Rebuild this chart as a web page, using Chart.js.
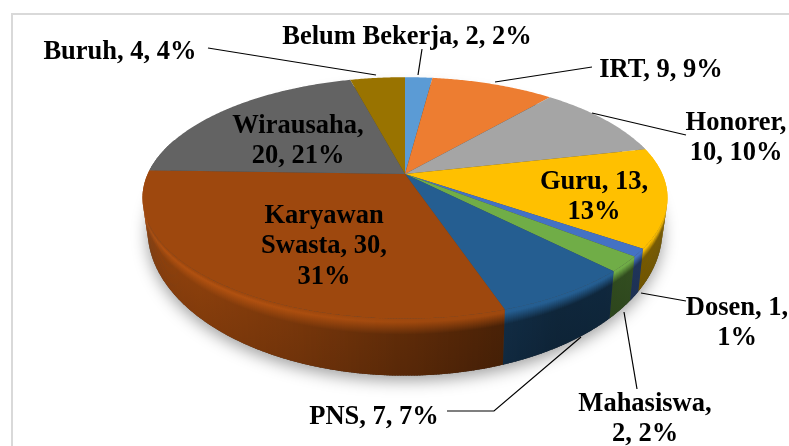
<!DOCTYPE html>
<html>
<head>
<meta charset="utf-8">
<style>
  html, body { margin: 0; padding: 0; background: #fff; overflow: hidden; }
  canvas { display: block; }
</style>
<script src="https://cdn.jsdelivr.net/npm/chart.js@4/dist/chart.umd.min.js"></script>
</head>
<body>
<canvas id="pieChart" width="789" height="446"></canvas>
<script>
// Chart data
const categories = ['Belum Bekerja', 'IRT', 'Honorer', 'Guru', 'Dosen', 'Mahasiswa', 'PNS', 'Karyawan Swasta', 'Wirausaha', 'Buruh'];
const counts = [2, 9, 10, 13, 1, 2, 7, 30, 20, 4];
const percents = [2, 9, 10, 13, 1, 2, 7, 31, 21, 4];
const sliceColors = ['#5B9BD5', '#ED7D31', '#A5A5A5', '#FFC000', '#4472C4', '#70AD47', '#255E91', '#9E480E', '#636363', '#997300'];

// Label placement: centre x, first line y, words per line
const labelSpots = [
  { x: 407, y: 37, words: [5] },
  { x: 661, y: 70, words: [4] },
  { x: 736, y: 123, words: [1, 2] },
  { x: 594, y: 182, words: [2, 1] },
  { x: 737, y: 308, words: [2, 1] },
  { x: 645, y: 404, words: [1, 2] },
  { x: 374, y: 417, words: [3] },
  { x: 324, y: 216, words: [1, 2, 1] },
  { x: 298, y: 126, words: [1, 2] },
  { x: 120, y: 52, words: [3] }
];

// Leader lines, same order as the categories (null = none)
const leaders = [
  [[422, 49], [418, 75]],
  [[592, 67], [495, 82]],
  [[686, 135], [592, 113]],
  null,
  [[686, 301], [641, 293]],
  [[637, 389], [624, 312]],
  [[447, 411], [494, 411], [581, 337]],
  null,
  null,
  [[208, 48], [376, 75]]
];

// Perspective of the tilted pie
const tilt = 0.198;
function topPoint(c, r, a) {
  const w = 1 - tilt * Math.sin(a);
  return [c.x + r * 0.982 * Math.cos(a) / w, c.y + r * 0.4427 * Math.sin(a) / w];
}
function basePoint(c, r, a) {
  const w = 1 - tilt * Math.sin(a);
  return [c.x + r * 0.963 * Math.cos(a) / w, c.y + 27 + r * 0.5345 * Math.sin(a) / w];
}

// Wall brightness read across the picture (x position, factor)
const wallShades = [[143, 0.9], [200, 0.87], [300, 0.75], [400, 0.6], [500, 0.47], [560, 0.4], [610, 0.42], [635, 0.45], [667, 0.5]];
function shadeAt(x) {
  for (let i = 1; i < wallShades.length; i++) {
    if (x <= wallShades[i][0]) {
      const a = wallShades[i - 1], b = wallShades[i];
      return a[1] + (b[1] - a[1]) * Math.max(0, x - a[0]) / (b[0] - a[0]);
    }
  }
  return wallShades[wallShades.length - 1][1];
}
function tint(hex, f) {
  const n = parseInt(hex.slice(1), 16);
  const ch = [n >> 16, (n >> 8) & 255, n & 255].map(v => Math.min(255, Math.round(v * f)));
  return `rgb(${ch[0]},${ch[1]},${ch[2]})`;
}

const pie3d = {
  id: 'pie3d',
  beforeDraw(chart) {
    const ctx = chart.ctx;
    ctx.save();
    ctx.fillStyle = '#fff';
    ctx.fillRect(0, 0, chart.width, chart.height);
    ctx.strokeStyle = '#D9D9D9';
    ctx.lineWidth = 2;
    ctx.strokeRect(12, 14, 900, 600);
    ctx.restore();
  },
  beforeDatasetDraw(chart) {
    const ctx = chart.ctx;
    const arcs = chart.getDatasetMeta(0).data;
    const c = { x: arcs[0].x, y: arcs[0].y };
    const r = arcs[0].outerRadius;
    const step = Math.PI / 360;

    ctx.save();
    // soft shadow under the base
    ctx.beginPath();
    for (let a = 0; a < Math.PI * 2; a += step) {
      const p = basePoint(c, r, a);
      ctx.lineTo(p[0], p[1]);
    }
    ctx.closePath();
    ctx.shadowColor = 'rgba(0,0,0,0.38)';
    ctx.shadowBlur = 16;
    ctx.shadowOffsetY = 5;
    ctx.fillStyle = '#444';
    ctx.fill();
    ctx.shadowColor = 'transparent';

    // side wall, back to front
    const strips = [];
    arcs.forEach(arc => {
      const color = arc.options.backgroundColor;
      for (let a = arc.startAngle; a < arc.endAngle; a += step) {
        const b = Math.min(a + step * 1.6, arc.endAngle);
        if (Math.sin(a) > -0.3) strips.push({ a, b, color });
      }
    });
    strips.sort((s, t) => Math.sin(s.a) - Math.sin(t.a));
    strips.forEach(s => {
      const t0 = topPoint(c, r, s.a), t1 = topPoint(c, r, s.b);
      const b0 = basePoint(c, r, s.a), b1 = basePoint(c, r, s.b);
      const shade = shadeAt(t0[0]);
      // lit rim on the left, fading out towards the middle
      const glow = 1 + 0.12 * Math.min(1, Math.max(0, (430 - t0[0]) / 180));
      const g = ctx.createLinearGradient(t0[0], t0[1], b0[0], b0[1]);
      g.addColorStop(0, tint(s.color, 1));
      g.addColorStop(0.06, tint(s.color, glow));
      g.addColorStop(0.28, tint(s.color, shade));
      g.addColorStop(1, tint(s.color, shade * 0.94));
      ctx.fillStyle = g;
      ctx.beginPath();
      ctx.moveTo(t0[0], t0[1]);
      ctx.lineTo(t1[0], t1[1]);
      ctx.lineTo(b1[0], b1[1]);
      ctx.lineTo(b0[0], b0[1]);
      ctx.closePath();
      ctx.fill();
    });

    // top face
    arcs.forEach(arc => {
      ctx.beginPath();
      ctx.moveTo(c.x, c.y);
      for (let a = arc.startAngle; a < arc.endAngle; a += step) {
        const p = topPoint(c, r, a);
        ctx.lineTo(p[0], p[1]);
      }
      const e = topPoint(c, r, arc.endAngle);
      ctx.lineTo(e[0], e[1]);
      ctx.closePath();
      ctx.fillStyle = arc.options.backgroundColor;
      ctx.fill();
    });
    ctx.restore();
    return false; // the arcs are painted above in perspective
  },
  afterDatasetsDraw(chart) {
    const ctx = chart.ctx;
    ctx.save();
    ctx.strokeStyle = '#000';
    ctx.lineWidth = 1.2;
    leaders.forEach(line => {
      if (!line) return;
      ctx.beginPath();
      line.forEach((p, i) => i ? ctx.lineTo(p[0], p[1]) : ctx.moveTo(p[0], p[1]));
      ctx.stroke();
    });
    ctx.fillStyle = '#000';
    ctx.font = 'bold 26.5px "Liberation Serif"';
    ctx.textAlign = 'center';
    ctx.textBaseline = 'middle';
    categories.forEach((cat, i) => {
      const words = `${cat}, ${counts[i]}, ${percents[i]}%`.split(' ');
      const spot = labelSpots[i];
      let used = 0;
      spot.words.forEach((n, row) => {
        ctx.fillText(words.slice(used, used + n).join(' '), spot.x, spot.y + row * 30.5);
        used += n;
      });
    });
    ctx.restore();
  }
};

new Chart(document.getElementById('pieChart'), {
  type: 'pie',
  data: {
    labels: categories,
    datasets: [{ data: counts, backgroundColor: sliceColors, borderWidth: 0, clip: false }]
  },
  options: {
    responsive: false,
    animation: false,
    radius: 262,
    layout: { padding: { left: 21, bottom: 98 } },
    plugins: { legend: { display: false }, tooltip: { enabled: false } }
  },
  plugins: [pie3d]
});
</script>
</body>
</html>
